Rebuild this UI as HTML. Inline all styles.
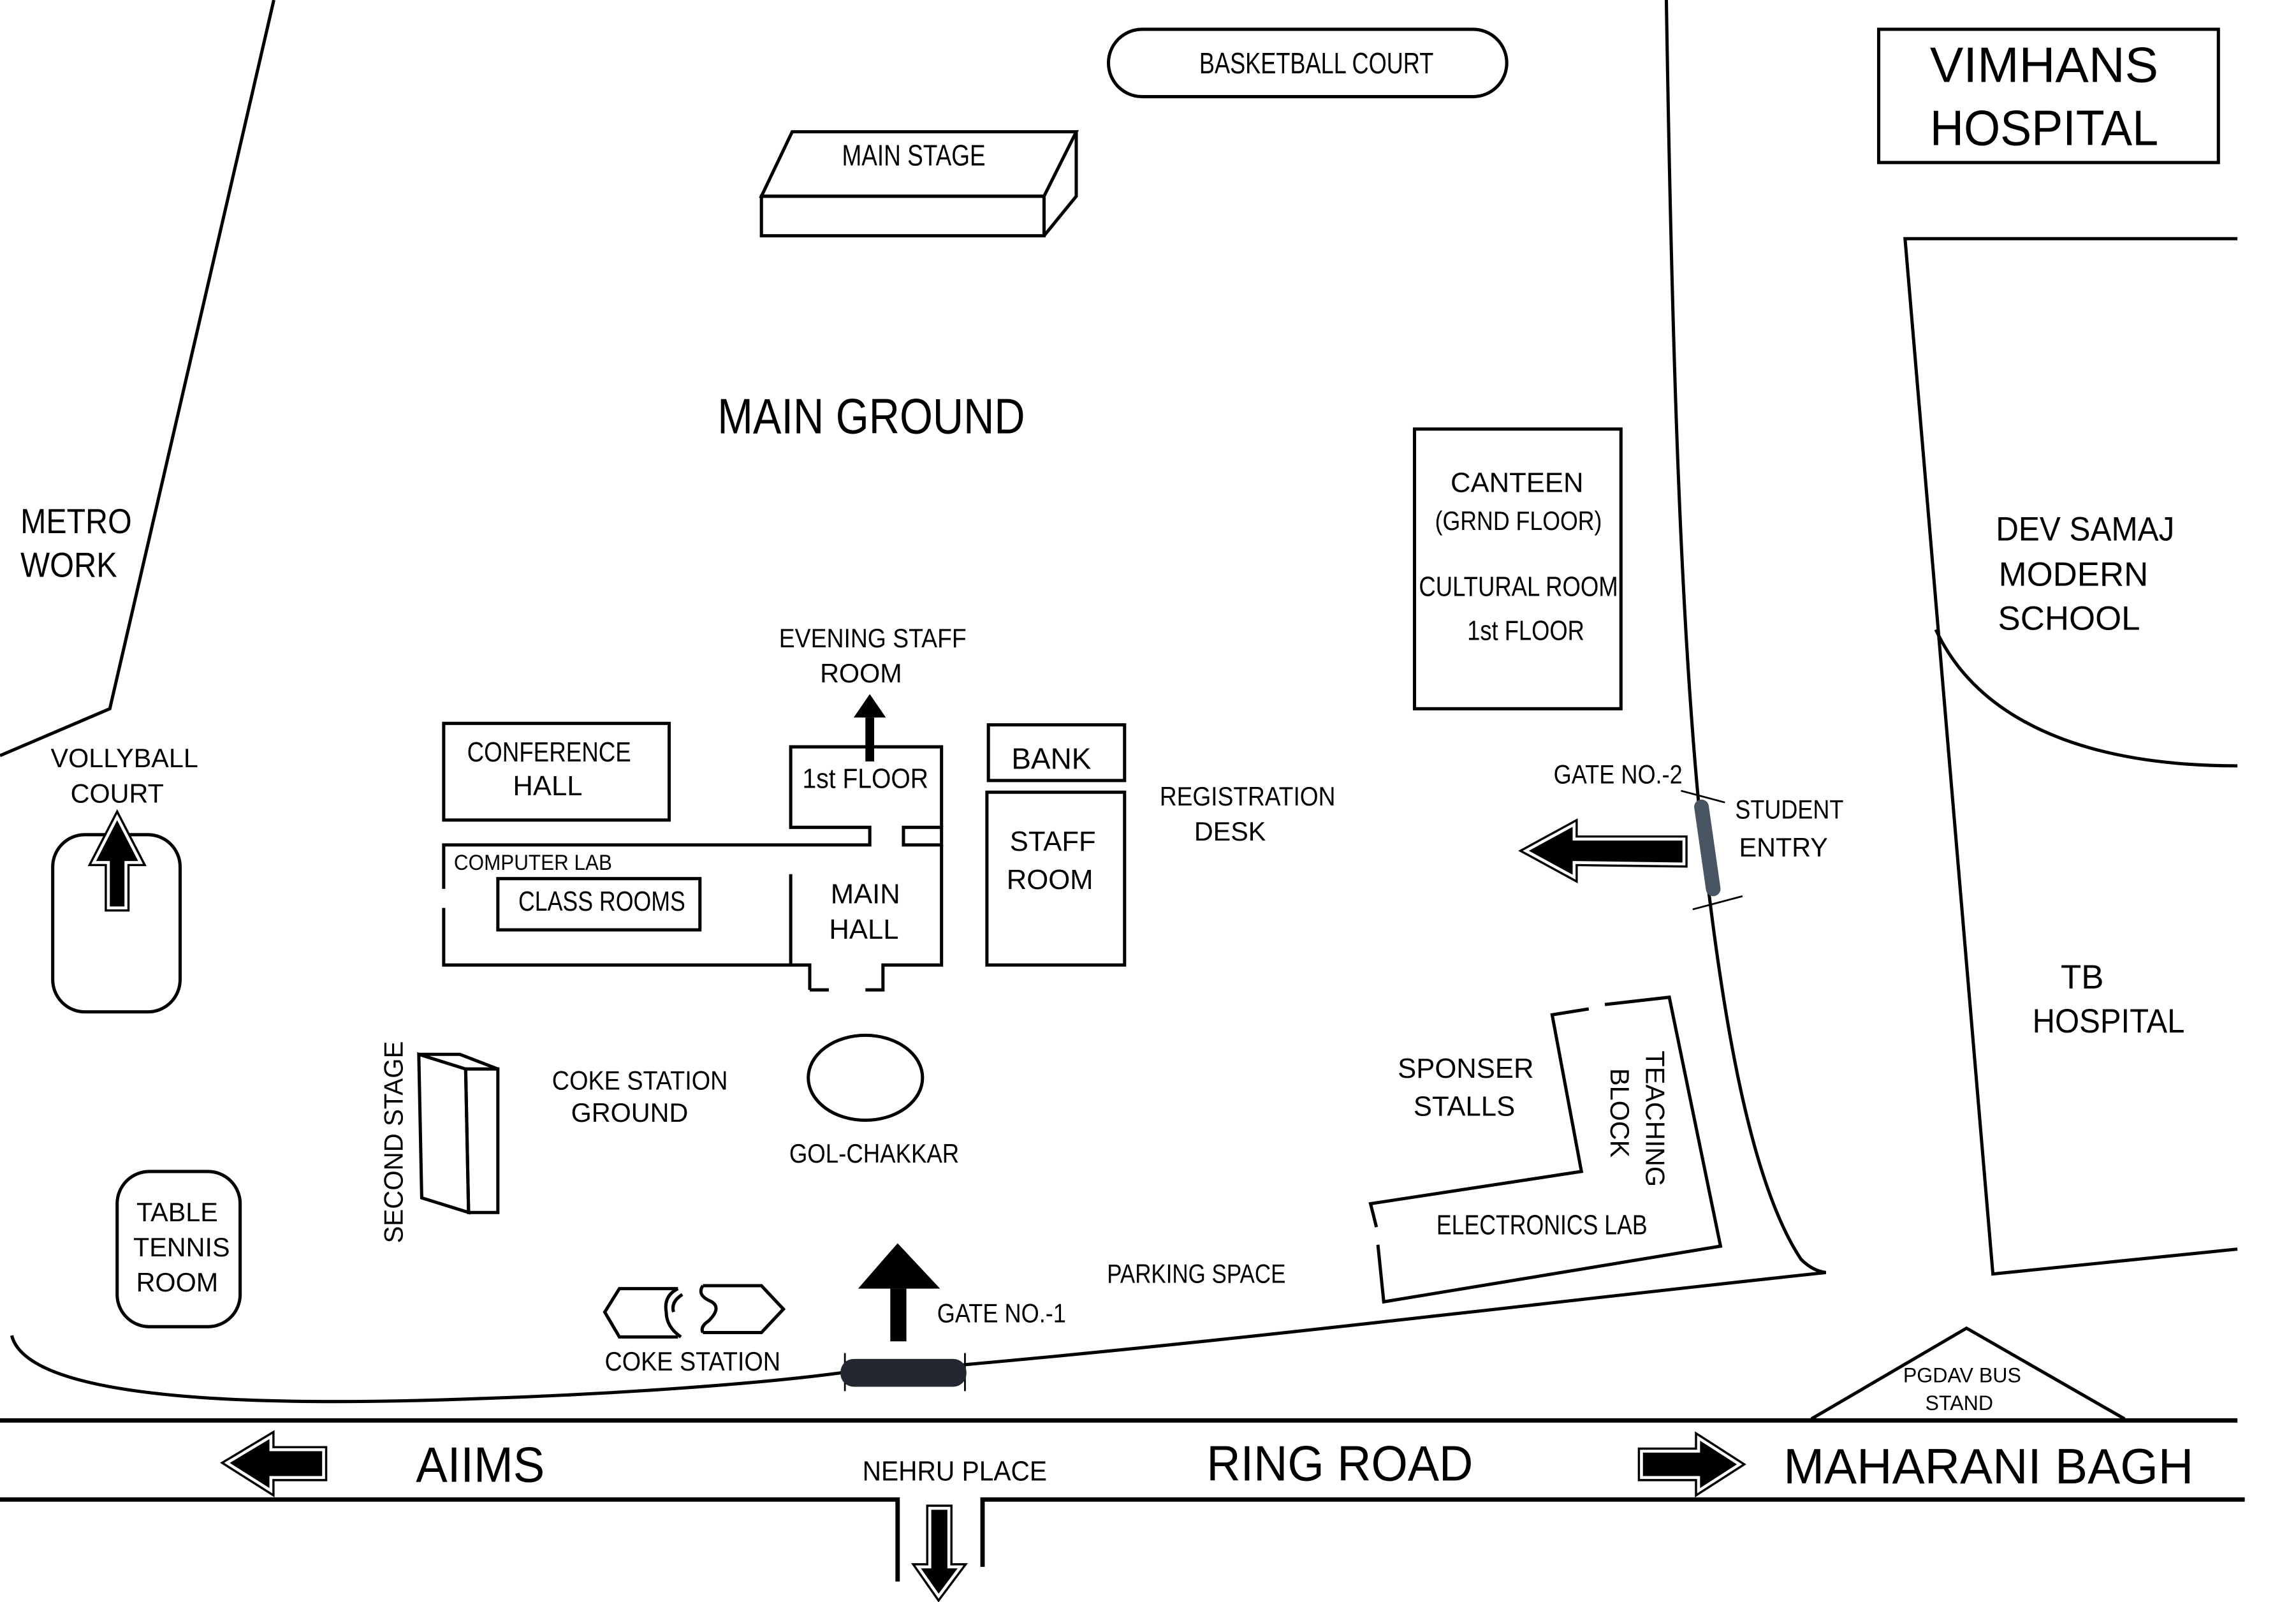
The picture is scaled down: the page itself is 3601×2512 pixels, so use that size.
<!DOCTYPE html>
<html><head><meta charset="utf-8"><style>
html,body{margin:0;padding:0;background:#fff;}
svg{display:block;}
text{font-family:"Liberation Sans Narrow","Liberation Sans",sans-serif;fill:#000;}
</style></head><body>
<svg width="3601" height="2512" viewBox="0 0 1568 1094" preserveAspectRatio="none" xmlns="http://www.w3.org/2000/svg">
<g fill="none" stroke="#000" stroke-width="2.2" stroke-linejoin="miter">
<polyline points="187,0 75,484 0,516"/>
<rect x="36" y="570" width="87" height="121" rx="22"/>
<rect x="80" y="800" width="84" height="106" rx="22"/>
<polygon points="286,720 318,730 320,828 288,818"/>
<polygon points="318,730 340,730 340,828 320,828"/>
<polyline points="286,720 314,720 340,730"/>
<!-- main stage -->
<polygon points="541,90 735,90 713,134 520,134"/>
<rect x="520" y="134" width="193" height="27"/>
<polyline points="735,90 735,134 713,161"/>
<rect x="757" y="20" width="272" height="46" rx="23"/>
<rect x="303" y="494" width="154" height="66"/>
<polyline points="303,607 303,577 594,577 594,565 540,565 540,510 643,510 643,565"/>
<rect x="617" y="565" width="26" height="12"/>
<polyline points="303,620 303,659 553,659 553,676"/>
<polyline points="540,597 540,659"/>
<polyline points="643,577 643,659 603,659 603,676 591,676"/>
<polyline points="553,676 566,676"/>
<rect x="340" y="600" width="138" height="35"/>
<rect x="675" y="495" width="93" height="38"/>
<rect x="674" y="541" width="94" height="118"/>
<ellipse cx="591" cy="736" rx="39" ry="29"/>
<rect x="966" y="293" width="141" height="191"/>
<polyline points="1096,686 1140,681 1175,851 945,889 941,850"/>
<polyline points="1085,689 1060,693 1080,800 936,822 940,838"/>
<rect x="1283" y="20" width="232" height="91"/>
<polyline points="1528,163 1301,163 1361,870 1528,853"/>
<path d="M1322,430 C1350,490 1420,523 1528,523"/>
<path d="M1138,0 C1142,250 1148,420 1160,548 C1172,660 1190,800 1230,860 Q1238,868 1247,869"/>
<path d="M8,912 C20,960 200,960 330,955 C420,952 520,945 578,937"/>
<path d="M658,932 C850,915 1050,890 1247,869"/>
<polyline points="1237,969 1343,907 1451,969"/>
<line x1="0" y1="970" x2="1528" y2="970" stroke-width="3"/>
<polyline points="0,1024 613,1024 613,1080" stroke-width="3"/>
<polyline points="1533,1024 671,1024 671,1070" stroke-width="3"/>
<polyline points="463,880 423,880 413,896 423,913 463,913"/>
<path d="M463,880 q-10,5 -8,16 q0,10 10,17"/>
<path d="M466,884 q-8,5 -6,12"/>
<polyline points="480,878 520,878 535,894 520,910 480,910"/>
<path d="M480,878 q-4,6 4,10 q10,4 0,14 q-6,4 -4,8"/>
</g>
<g stroke="#000" stroke-width="1.2">
<line x1="577" y1="924" x2="577" y2="950"/><line x1="659" y1="924" x2="659" y2="950"/>
<line x1="1148" y1="540" x2="1178" y2="548"/><line x1="1156" y1="621" x2="1190" y2="612"/>
</g>
<rect x="574" y="928" width="86" height="19" rx="9" fill="#222730"/>
<line x1="1162" y1="551" x2="1170" y2="607" stroke="#4a5563" stroke-width="10" stroke-linecap="round"/>
<g fill="#000" stroke="#000" stroke-width="5" stroke-linejoin="miter">
<polygon points="74,620 74,589 64,589 80,558 96,589 86,589 86,620"/>
<polygon points="221,990 185,990 185,981 155,999 185,1018 185,1009 221,1009"/>
<polygon points="1121,991 1160,991 1160,982 1188,1000 1160,1018 1160,1009 1121,1009"/>
<polygon points="635,1030 648,1030 648,1070 656,1070 641,1090 627,1070 635,1070"/>
<polygon points="1150,573 1075,573 1075,563 1042,581 1075,599 1075,589 1150,590"/>
</g>
<g fill="none" stroke="#fff" stroke-width="2">
<polygon points="74,620 74,589 64,589 80,558 96,589 86,589 86,620"/>
<polygon points="221,990 185,990 185,981 155,999 185,1018 185,1009 221,1009"/>
<polygon points="1121,991 1160,991 1160,982 1188,1000 1160,1018 1160,1009 1121,1009"/>
<polygon points="635,1030 648,1030 648,1070 656,1070 641,1090 627,1070 635,1070"/>
<polygon points="1150,573 1075,573 1075,563 1042,581 1075,599 1075,589 1150,590"/>
</g>
<g fill="#000">
<rect x="591" y="490" width="6" height="30"/><polygon points="583,490 594,474 605,490"/>
<rect x="608" y="880" width="11" height="36"/><polygon points="586,880 613,849 642,880"/>
</g>
<g font-size="20" text-anchor="middle">
<text x="899" y="50" textLength="160" lengthAdjust="spacingAndGlyphs">BASKETBALL COURT</text>
<text x="624" y="113" textLength="98" lengthAdjust="spacingAndGlyphs">MAIN STAGE</text>
<text x="595" y="296" font-size="34" textLength="210" lengthAdjust="spacingAndGlyphs">MAIN GROUND</text>
<text x="14" y="364" font-size="24" text-anchor="start" textLength="76" lengthAdjust="spacingAndGlyphs">METRO</text>
<text x="14" y="394" font-size="24" text-anchor="start" textLength="66" lengthAdjust="spacingAndGlyphs">WORK</text>
<text x="85" y="524" font-size="18">VOLLYBALL</text>
<text x="80" y="548" font-size="18">COURT</text>
<text x="596" y="442" font-size="18" textLength="128" lengthAdjust="spacingAndGlyphs">EVENING STAFF</text>
<text x="588" y="466" font-size="18">ROOM</text>
<text x="375" y="520" font-size="19" textLength="112" lengthAdjust="spacingAndGlyphs">CONFERENCE</text>
<text x="374" y="543" font-size="19">HALL</text>
<text x="364" y="594" font-size="15" textLength="108" lengthAdjust="spacingAndGlyphs">COMPUTER LAB</text>
<text x="411" y="622" font-size="19" textLength="114" lengthAdjust="spacingAndGlyphs">CLASS ROOMS</text>
<text x="591" y="538" font-size="19" textLength="86" lengthAdjust="spacingAndGlyphs">1st FLOOR</text>
<text x="591" y="617" font-size="19">MAIN</text>
<text x="590" y="641" font-size="19">HALL</text>
<text x="718" y="525" font-size="20">BANK</text>
<text x="719" y="581" font-size="19">STAFF</text>
<text x="717" y="607" font-size="19">ROOM</text>
<text x="852" y="550" font-size="18" textLength="120" lengthAdjust="spacingAndGlyphs">REGISTRATION</text>
<text x="840" y="574" font-size="18">DESK</text>
<text x="1036" y="336" font-size="19">CANTEEN</text>
<text x="1037" y="362" font-size="18" textLength="114" lengthAdjust="spacingAndGlyphs">(GRND FLOOR)</text>
<text x="1037" y="407" font-size="19" textLength="136" lengthAdjust="spacingAndGlyphs">CULTURAL ROOM</text>
<text x="1042" y="437" font-size="19" textLength="80" lengthAdjust="spacingAndGlyphs">1st FLOOR</text>
<text x="1105" y="535" font-size="18" textLength="88" lengthAdjust="spacingAndGlyphs">GATE NO.-2</text>
<text x="1222" y="559" font-size="18" textLength="74" lengthAdjust="spacingAndGlyphs">STUDENT</text>
<text x="1218" y="585" font-size="18">ENTRY</text>
<text x="1424" y="369" font-size="23" textLength="122" lengthAdjust="spacingAndGlyphs">DEV SAMAJ</text>
<text x="1416" y="400" font-size="23">MODERN</text>
<text x="1413" y="430" font-size="23">SCHOOL</text>
<text x="1422" y="675" font-size="23">TB</text>
<text x="1440" y="705" font-size="23" textLength="104" lengthAdjust="spacingAndGlyphs">HOSPITAL</text>
<text x="1396" y="56" font-size="34" textLength="156" lengthAdjust="spacingAndGlyphs">VIMHANS</text>
<text x="1396" y="99" font-size="34" textLength="156" lengthAdjust="spacingAndGlyphs">HOSPITAL</text>
<text x="1001" y="736" font-size="19">SPONSER</text>
<text x="1000" y="762" font-size="19">STALLS</text>
<text x="1053" y="843" font-size="19" textLength="144" lengthAdjust="spacingAndGlyphs">ELECTRONICS LAB</text>
<text x="437" y="744" font-size="18" textLength="120" lengthAdjust="spacingAndGlyphs">COKE STATION</text>
<text x="430" y="766" font-size="18">GROUND</text>
<text x="597" y="794" font-size="18" textLength="116" lengthAdjust="spacingAndGlyphs">GOL-CHAKKAR</text>
<text x="121" y="834" font-size="18">TABLE</text>
<text x="124" y="858" font-size="18">TENNIS</text>
<text x="121" y="882" font-size="18">ROOM</text>
<text x="817" y="876" font-size="18" textLength="122" lengthAdjust="spacingAndGlyphs">PARKING SPACE</text>
<text x="684" y="903" font-size="18" textLength="88" lengthAdjust="spacingAndGlyphs">GATE NO.-1</text>
<text x="473" y="936" font-size="18" textLength="120" lengthAdjust="spacingAndGlyphs">COKE STATION</text>
<text x="1340" y="944" font-size="14">PGDAV BUS</text>
<text x="1338" y="963" font-size="14">STAND</text>
<text x="328" y="1012" font-size="34" textLength="88" lengthAdjust="spacingAndGlyphs">AIIMS</text>
<text x="652" y="1011" font-size="19" textLength="126" lengthAdjust="spacingAndGlyphs">NEHRU PLACE</text>
<text x="915" y="1011" font-size="34" textLength="182" lengthAdjust="spacingAndGlyphs">RING ROAD</text>
<text x="1358" y="1013" font-size="34" textLength="280" lengthAdjust="spacingAndGlyphs">MAHARANI BAGH</text>
<text transform="translate(275,780) rotate(-90)" font-size="18" textLength="138" lengthAdjust="spacingAndGlyphs">SECOND STAGE</text>
<text transform="translate(1124,764) rotate(90)" font-size="18">TEACHING</text>
<text transform="translate(1100,760) rotate(90)" font-size="18">BLOCK</text>
</g>
</svg>
</body></html>
